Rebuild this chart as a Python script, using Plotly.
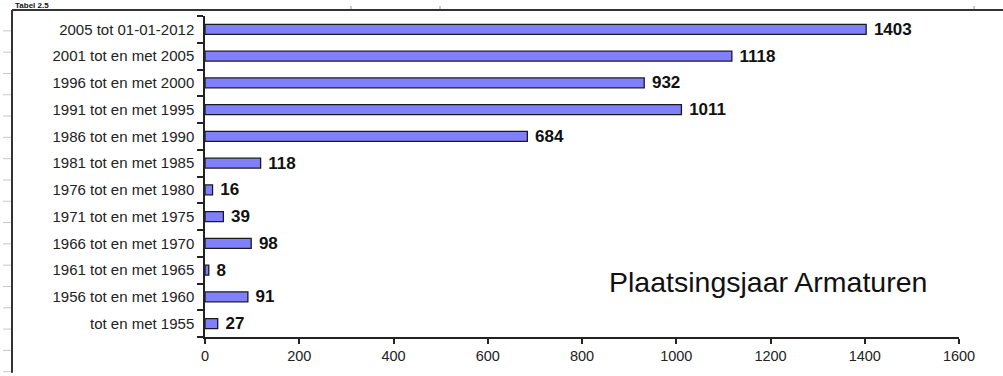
import plotly.graph_objects as go

categories = [
    "tot en met 1955",
    "1956 tot en met 1960",
    "1961 tot en met 1965",
    "1966 tot en met 1970",
    "1971 tot en met 1975",
    "1976 tot en met 1980",
    "1981 tot en met 1985",
    "1986 tot en met 1990",
    "1991 tot en met 1995",
    "1996 tot en met 2000",
    "2001 tot en met 2005",
    "2005 tot 01-01-2012",
]
values = [27, 91, 8, 98, 39, 16, 118, 684, 1011, 932, 1118, 1403]
x_ticks = [0, 200, 400, 600, 800, 1000, 1200, 1400, 1600]
chart_title = "Plaatsingsjaar Armaturen"
page_title = "Tabel 2.5"

W, H = 1003, 376
ML, MR, MT, MB = 205, 44, 16, 36
PW, PH = W - ML - MR, H - MT - MB
FONT = "Liberation Sans, Arial, sans-serif"


def px(xp):
    return (xp - ML) / PW


def py(yp):
    return (H - MB - yp) / PH


fig = go.Figure()
fig.add_trace(go.Bar(
    y=categories,
    x=values,
    orientation="h",
    width=0.37,
    marker=dict(color="#8080ff", line=dict(color="#1a1a1a", width=1.3)),
    text=[" " + str(v) for v in values],
    textposition="outside",
    constraintext="none",
    textfont=dict(family=FONT, size=17, color="#111111", weight="bold"),
    cliponaxis=False,
    hoverinfo="skip",
))

shapes = []
# page frame lines
shapes.append(dict(type="line", xref="paper", yref="paper",
                   x0=px(12), x1=px(1003), y0=py(10), y1=py(10),
                   line=dict(color="#333333", width=2)))
shapes.append(dict(type="line", xref="paper", yref="paper",
                   x0=px(12), x1=px(12), y0=py(10), y1=py(376),
                   line=dict(color="#333333", width=2)))
# faint ruler ticks on the left
for k in range(17):
    yy = 31 + 21.5 * k
    shapes.append(dict(type="line", xref="paper", yref="paper",
                       x0=px(3), x1=px(11), y0=py(yy), y1=py(yy),
                       line=dict(color="#c8c8c8", width=1)))
for xx in (351, 440, 974):
    shapes.append(dict(type="line", xref="paper", yref="paper",
                       x0=px(xx), x1=px(xx), y0=py(6), y1=py(9),
                       line=dict(color="#c8c8c8", width=2)))

fig.update_layout(
    width=W, height=H,
    margin=dict(l=ML, r=MR, t=MT, b=MB, pad=0),
    paper_bgcolor="white",
    plot_bgcolor="white",
    showlegend=False,
    shapes=shapes,
    font=dict(family=FONT, color="#222222"),
    xaxis=dict(
        range=[0, 1600],
        tickvals=x_ticks,
        ticktext=[str(t) for t in x_ticks],
        showgrid=False,
        zeroline=False,
        showline=True,
        linecolor="#222222",
        linewidth=1.5,
        ticks="outside",
        ticklen=5,
        tickcolor="#222222",
        tickwidth=1.5,
        tickfont=dict(size=14.5, color="#222222"),
        fixedrange=True,
    ),
    yaxis=dict(
        categoryorder="array",
        categoryarray=categories,
        range=[-0.5, len(categories) - 0.5],
        showgrid=False,
        zeroline=False,
        showline=True,
        linecolor="#222222",
        linewidth=1.5,
        ticks="outside",
        ticklen=6,
        tickcolor="#222222",
        tickwidth=1.5,
        tickson="boundaries",
        tickfont=dict(size=15, color="#222222"),
        ticklabelstandoff=6,
        fixedrange=True,
    ),
    annotations=[
        dict(text=chart_title, xref="paper", yref="paper",
             x=px(607), y=py(284), xanchor="left", yanchor="middle",
             showarrow=False,
             font=dict(size=28.5, color="#111111", family=FONT)),
        dict(text="<b>" + page_title + "</b>", xref="paper", yref="paper",
             x=px(14), y=py(0), xanchor="left", yanchor="top",
             showarrow=False, borderpad=0,
             font=dict(size=8, color="#111111", family=FONT)),
    ],
)

fig.write_html("out.html")
